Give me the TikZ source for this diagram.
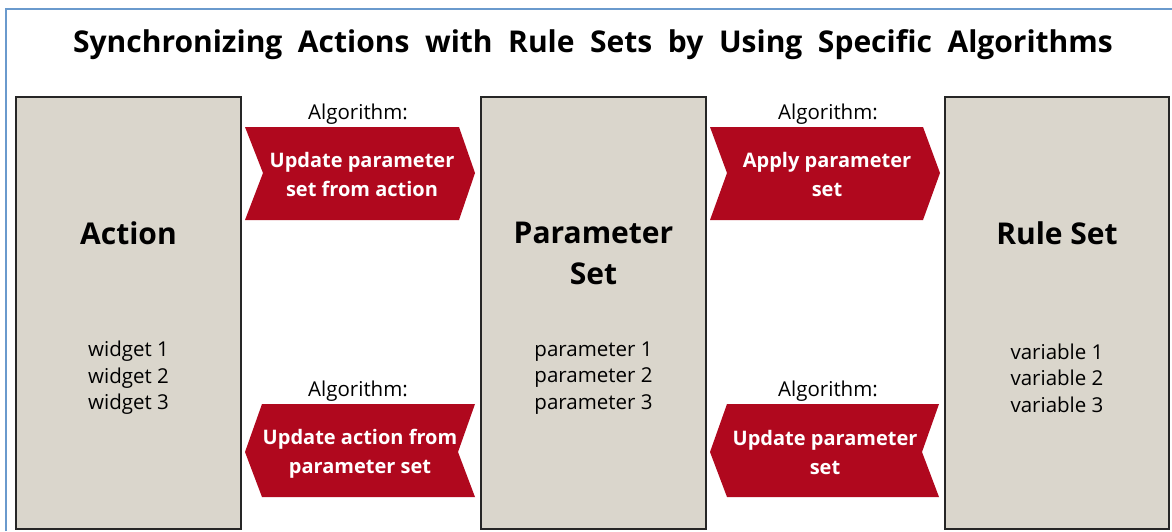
\documentclass[tikz,border=0pt]{standalone}
\usepackage{fontspec}
\setmainfont{Open Sans}
\newfontfamily\titlefont[WordSpace=2.0]{Open Sans}
\definecolor{framecol}{RGB}{106,154,205}
\definecolor{panelfill}{RGB}{218,214,204}
\definecolor{algored}{RGB}{176,8,30}
\tikzset{
  x=1pt, y=-1pt,
  panel/.style={draw=black!85, line width=1.4pt, fill=panelfill},
  paneltitle/.style={font=\fontsize{30}{41}\selectfont\bfseries, align=center, inner sep=0pt},
  itemlist/.style={font=\fontsize{20.5}{26.5}\selectfont, align=center, inner sep=0pt},
  algolabel/.style={font=\fontsize{20.5}{22}\selectfont, inner sep=0pt},
  chevron/.style={fill=algored, draw=none},
  chevtext/.style={font=\fontsize{20}{29}\selectfont\bfseries, text=white, align=center, inner sep=0pt},
}
\begin{document}
\begin{tikzpicture}
\useasboundingbox (0,0) rectangle (1172,531);
\fill[white] (0,0) rectangle (1172,531);
% outer frame
\draw[framecol, line width=2pt] (6,531) -- (6,9) -- (1172,9);

% heading
\node[font=\titlefont\fontsize{30}{36}\selectfont\bfseries, inner sep=0pt] (heading) at (593,45)
  {Synchronizing Actions with Rule Sets by Using Specific Algorithms};

% panels
\path[panel] (16,97) rectangle (241,529);
\path[panel] (481,97) rectangle (706,529);
\path[panel] (945,97) rectangle (1169,529);

\node[paneltitle] (action) at (128.5,233) {Action};
\node[paneltitle] (param) at (593.5,253) {Parameter\\Set};
\node[paneltitle] (rules) at (1057,233) {Rule Set};

\node[itemlist] (widgets) at (128.5,378) {widget 1\\widget 2\\widget 3};
\node[itemlist] (params) at (593.5,378) {parameter 1\\parameter 2\\parameter 3};
\node[itemlist] (vars) at (1057,378) {variable 1\\variable 2\\variable 3};

% algorithm chevrons (right-pointing, top row)
\fill[chevron] (245,127) -- (459,127) -- (475,173) -- (459,220) -- (245,220) -- (263,173) -- cycle;
\fill[chevron] (710,127) -- (923,127) -- (940,173) -- (923,220) -- (710,220) -- (727,173) -- cycle;
% algorithm chevrons (left-pointing, bottom row)
\fill[chevron] (245,452) -- (262,404) -- (475,404) -- (458,452) -- (475,497) -- (262,497) -- cycle;
\fill[chevron] (710,452) -- (727,404) -- (939,404) -- (922,452) -- (939,497) -- (727,497) -- cycle;

\node[algolabel] (alg1) at (358,114) {Algorithm:};
\node[algolabel] (alg2) at (828,114) {Algorithm:};
\node[algolabel] (alg3) at (358,391) {Algorithm:};
\node[algolabel] (alg4) at (828,391) {Algorithm:};

\node[chevtext] (c1) at (362,174) {Update parameter\\set from action};
\node[chevtext] (c2) at (827,174) {Apply parameter\\set};
\node[chevtext] (c3) at (360,454) {Update action from\\parameter set};
\node[chevtext] (c4) at (825,452) {Update parameter\\set};
\end{tikzpicture}
\end{document}
